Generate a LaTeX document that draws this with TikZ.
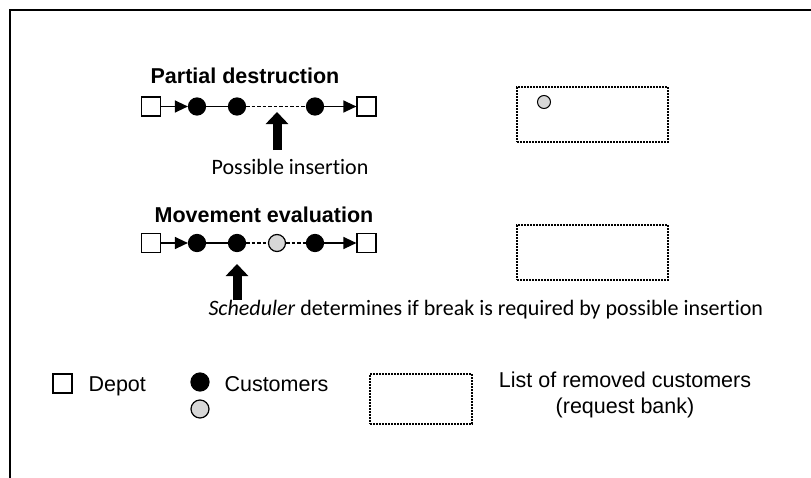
\documentclass[tikz,border=0pt]{standalone}
\usepackage{fontspec}
\setmainfont{Liberation Sans}
\newfontfamily\calib[Ligatures=NoCommon]{Carlito}
\usetikzlibrary{arrows.meta}
\definecolor{lgrey}{RGB}{215,215,215}
\tikzset{
  depot/.style={draw,line width=1.2pt,fill=white,minimum size=19pt,inner sep=0pt},
  cust/.style={circle,draw,line width=1.2pt,fill=black,minimum size=17pt,inner sep=0pt},
  gcust/.style={cust,fill=lgrey},
  route/.style={line width=1.3pt},
  rarrow/.style={route,-{Triangle[length=13pt,width=12pt]}},
  dashedroute/.style={line width=1.1pt,dash pattern=on 3.5pt off 2pt},
  bank/.style={draw,line width=1.6pt,dash pattern=on 1.6pt off 1.4pt,inner sep=0pt},
  bigarrow/.style={line width=9pt,-{Triangle[length=12pt,width=22pt]}},
  title/.style={font=\fontsize{21.5}{25}\selectfont\bfseries,anchor=base},
  ctext/.style={font=\calib\fontsize{22}{26}\selectfont,anchor=base},
  ltext/.style={font=\fontsize{21.5}{26}\selectfont,anchor=base west}
}
\begin{document}
\begin{tikzpicture}[x=1pt,y=-1pt]
\useasboundingbox (0,0) rectangle (811,477);
\draw[line width=2.6pt] (10,10) rectangle (830,500);

% Row 1
\node[title] (t1) at (245,83) {Partial destruction};
\node[depot] (a0) at (151,106.5) {};
\node[cust] (a1) at (197,106.5) {};
\node[cust] (a2) at (237,106.5) {};
\node[cust] (a3) at (315,106.5) {};
\node[depot] (a4) at (366.5,106.5) {};
\draw[rarrow] (a0) -- (a1);
\draw[route] (a1) -- (a2);
\draw[dashedroute] (a2) -- (a3);
\draw[rarrow] (a3) -- (a4);
\coordinate (p1tail) at (277,150);
\coordinate (p1tip) at (277,112);
\draw[bigarrow] (p1tail) -- (p1tip);
\node[ctext] (pi) at (290,174) {Possible insertion};
\node[bank,minimum width=151pt,minimum height=55pt] (b1) at (592.5,114.5) {};
\node[gcust,minimum size=13pt,line width=1pt] (bg) at (544,102) {};

% Row 2
\node[title] (t2) at (264,222) {Movement evaluation};
\node[depot] (c0) at (151,243) {};
\node[cust] (c1) at (197,243) {};
\node[cust] (c2) at (237,243) {};
\node[gcust] (cg) at (277,243) {};
\node[cust] (c3) at (315,243) {};
\node[depot] (c4) at (366.5,243) {};
\draw[rarrow] (c0) -- (c1);
\draw[route] (c1) -- (c2);
\draw[dashedroute] (c2) -- (cg);
\draw[dashedroute] (cg) -- (c3);
\draw[rarrow] (c3) -- (c4);
\coordinate (p2tail) at (237,300);
\coordinate (p2tip) at (237,264);
\draw[bigarrow] (p2tail) -- (p2tip);
\node[ctext,anchor=base west] (sch) at (205,315) {\textit{Scheduler} determines if break is required by possible insertion};
\node[bank,minimum width=151pt,minimum height=55pt] (b2) at (592.5,252.5) {};

% Legend
\node[depot] (ld) at (62.5,383.5) {};
\node[ltext] (ldt) at (85,391) {Depot};
\node[cust,minimum size=18pt] (lc1) at (200,382) {};
\node[gcust,minimum size=18pt] (lc2) at (200,409) {};
\node[ltext] (lct) at (221,391) {Customers};
\node[bank,minimum width=102pt,minimum height=50pt] (lb) at (421,399) {};
\node[font=\fontsize{21.5}{26}\selectfont,align=center,anchor=north] (lbt) at (625,368) {List of removed customers\\(request bank)};
\end{tikzpicture}
\end{document}
